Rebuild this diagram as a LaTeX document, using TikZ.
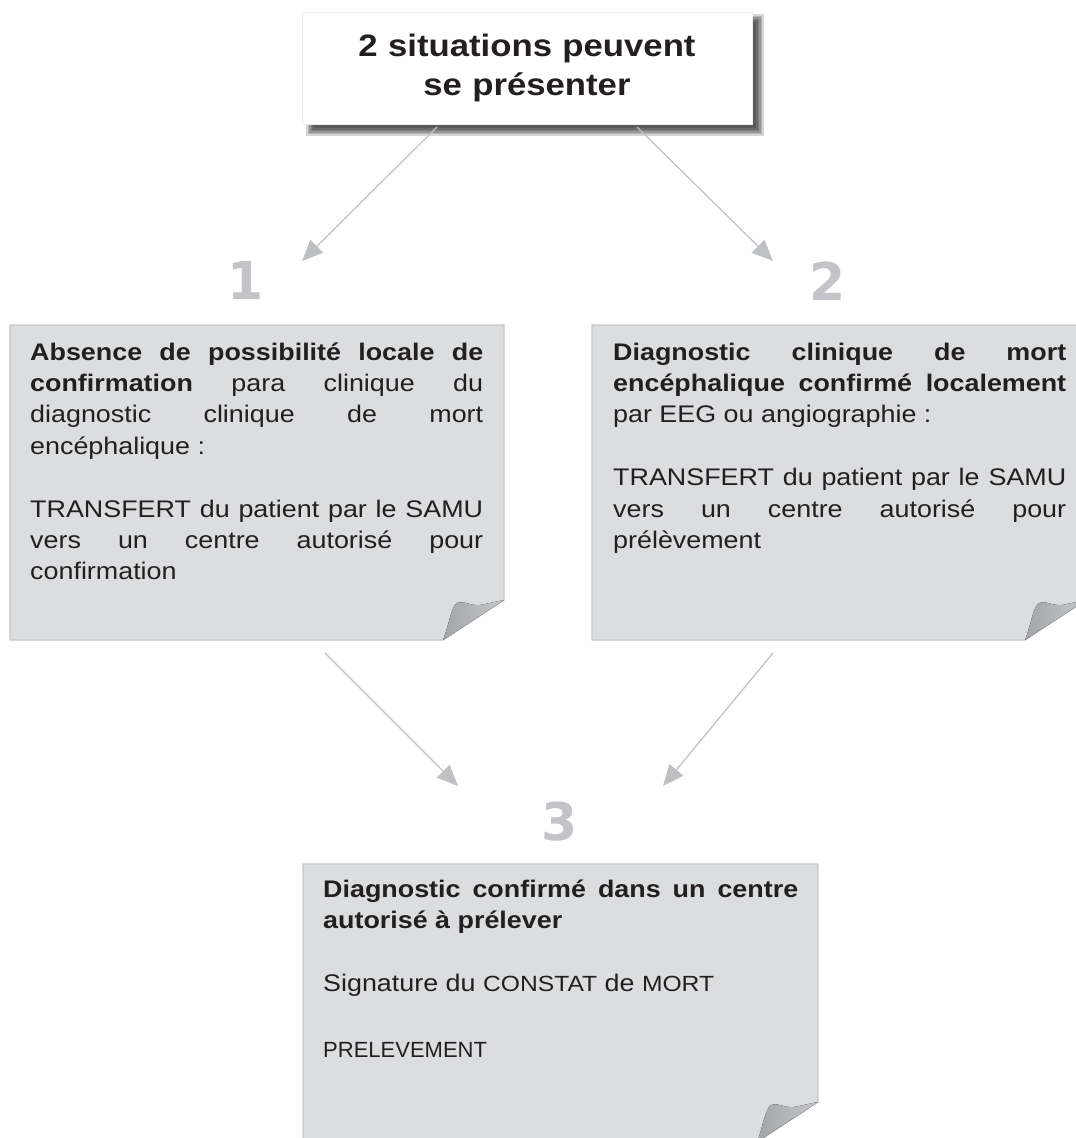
\documentclass[tikz,border=0pt]{standalone}
\usepackage{fontspec}
\setmainfont[FakeStretch=1.12]{Liberation Sans}
\newfontfamily\plainfont{Liberation Sans}
\newfontfamily\digitfont{DejaVu Sans}
\usepackage{tikz}
\usetikzlibrary{arrows.meta, positioning, calc, backgrounds}
\usepackage{xcolor}
\definecolor{ink}{HTML}{231F20}
\definecolor{paper}{HTML}{DCDDDF}
\definecolor{paperedge}{HTML}{C6C7C9}
\definecolor{arrowgray}{HTML}{BFC0C3}
\definecolor{numgray}{HTML}{C3C4C7}
\definecolor{curldark}{HTML}{A4A5A8}
\definecolor{curllight}{HTML}{C6C7CA}
\hyphenpenalty=10000
\exhyphenpenalty=10000
\hbadness=10000

\begin{document}
\begin{tikzpicture}[
  x=1pt, y=-1pt,
  boxtext/.style={anchor=base west, inner sep=0pt, align=justify, text=ink,
    text width=#1, font=\fontsize{24}{31.4}\selectfont},
  num/.style={font=\digitfont\bfseries\fontsize{52}{52}\selectfont,
    text=numgray, inner sep=0pt},
  arr/.style={-{Triangle[length=21pt,width=18pt]}, line width=1.2pt, arrowgray},
  sheet/.style={fill=paper, draw=paperedge, line width=1.2pt},
  curl/.style={left color=curldark, right color=curllight, draw=none}
]
  \useasboundingbox (0,0) rectangle (1076,1138);

  % Title box
  \node[fill=white, draw=black!6, minimum width=450pt, minimum height=112pt,
    text width=440pt, align=center, text=ink, inner sep=0pt,
    font=\bfseries\fontsize{31}{39}\selectfont] (title) at (527,68)
    {2 situations peuvent\\se présenter};
  \begin{scope}[on background layer]
    \foreach \s in {0,1.5,...,7.5}
      \fill[black, opacity=0.16] ($(title.north west)+(12-\s,10-\s)$)
        rectangle ($(title.south east)+(4+\s,4+\s)$);
  \end{scope}

  % Step numbers
  \node[num] (n1) at (246,281) {1};
  \node[num] (n2) at (828,281) {2};
  \node[num] (n3) at (560,822) {3};

  % Sheet 1
  \fill[sheet] (10,325) -- (504,325) -- (504,600) -- (443,640) -- (10,640) -- cycle;
  \fill[curl] (443,640) .. controls (449,625) and (451,607) .. (457,603)
    .. controls (462,600) and (470,606) .. (480,605) -- (504,600) -- cycle;
  \node[boxtext=453pt] (txt1) at (30,360)
    {\textbf{Absence de possibilité locale de\linebreak confirmation} para clinique du\linebreak
     diagnostic clinique de mort\linebreak encéphalique :\par\vskip31.4pt
     TRANSFERT du patient par le SAMU\linebreak vers un centre autorisé pour\linebreak
     confirmation};

  % Sheet 2
  \fill[sheet] (592,325) -- (1086,325) -- (1086,600) -- (1025,640) -- (592,640) -- cycle;
  \fill[curl] (1025,640) .. controls (1031,625) and (1033,607) .. (1039,603)
    .. controls (1044,600) and (1052,606) .. (1062,605) -- (1086,600) -- cycle;
  \node[boxtext=453pt] (txt2) at (613,360)
    {\textbf{Diagnostic clinique de mort\linebreak encéphalique confirmé localement}\linebreak
     par EEG ou angiographie :\par\vskip31.4pt
     TRANSFERT du patient par le SAMU\linebreak vers un centre autorisé pour\linebreak
     prélèvement};

  % Sheet 3
  \fill[sheet] (303,864) -- (818,864) -- (818,1102) -- (757,1142) -- (303,1142) -- cycle;
  \fill[curl] (757,1142) .. controls (763,1127) and (765,1109) .. (771,1105)
    .. controls (776,1102) and (784,1108) .. (794,1107) -- (818,1102) -- cycle;
  \node[boxtext=475pt] (txt3) at (323,897)
    {\textbf{Diagnostic confirmé dans un centre\linebreak autorisé à prélever}\par\vskip31.4pt
     Signature du {\fontsize{22}{31.4}\selectfont CONSTAT} de
     {\fontsize{22}{31.4}\selectfont MORT}\par\vskip35pt
     {\plainfont\fontsize{22}{31.4}\selectfont PRELEVEMENT}};

  % Connectors
  \coordinate (a1) at (437,127);
  \coordinate (h1) at (302,261);
  \coordinate (a2) at (637,127);
  \coordinate (h2) at (773,261);
  \coordinate (a3) at (325,653);
  \coordinate (h3) at (458,786);
  \coordinate (a4) at (773,653);
  \coordinate (h4) at (663,786);
  \draw[arr] (a1) -- (h1);
  \draw[arr] (a2) -- (h2);
  \draw[arr] (a3) -- (h3);
  \draw[arr] (a4) -- (h4);
\end{tikzpicture}
\end{document}
